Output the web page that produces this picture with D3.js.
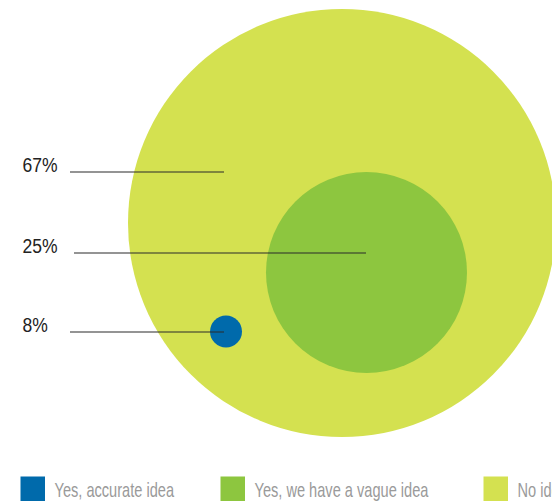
<!DOCTYPE html>
<html>
<head>
<meta charset="utf-8">
<script src="https://cdn.jsdelivr.net/npm/d3@7"></script>
<style>
  html, body { margin: 0; padding: 0; background: #fff; }
  svg { display: block; }
  text { font-family: "Liberation Sans", Arial, sans-serif; }
</style>
</head>
<body>
<script>
// Survey answers
const categories = ["Yes, accurate idea", "Yes, we have a vague idea", "No idea"];
const values = [8, 25, 67];
const valueLabels = ["8%", "25%", "67%"];
const colors = ["#006aab", "#8dc63f", "#d4e150"];

// Layout (pixel geometry kept apart from the data)
const W = 552, H = 501;
const circleCenters = [[226, 331.5], [366.5, 272.5], [342, 223]];
const leaderEnds = [[224, 332], [366, 253], [224, 172]];
const leaderStarts = [70, 74, 70];
const labelX = 22.5;
const legendX = [20.5, 220.5, 483.5];
const legendY = 476.5;

const svg = d3.select("body").append("svg")
  .attr("width", W).attr("height", H);

// Radius scale for the bubbles
const r = d3.scaleLinear().domain([8, 25, 67]).range([16, 100.5, 214]);

const data = categories.map((c, i) => ({
  category: c, value: values[i], label: valueLabels[i], color: colors[i],
  cx: circleCenters[i][0], cy: circleCenters[i][1],
  lx: leaderEnds[i][0], ly: leaderEnds[i][1], sx: leaderStarts[i]
}));

// Largest bubble first so smaller ones sit on top
const drawOrder = data.slice().sort((a, b) => b.value - a.value);

svg.append("g").selectAll("circle")
  .data(drawOrder)
  .join("circle")
  .attr("cx", d => d.cx)
  .attr("cy", d => d.cy)
  .attr("r", d => r(d.value))
  .attr("fill", d => d.color);

// Leader lines and percentage labels
const ann = svg.append("g");
ann.selectAll("line")
  .data(data)
  .join("line")
  .attr("x1", d => d.sx).attr("x2", d => d.lx)
  .attr("y1", d => d.ly).attr("y2", d => d.ly)
  .attr("stroke", "#2b2b2b")
  .attr("stroke-width", 1.1);

// Condensed look: horizontally compressed type
ann.selectAll("text")
  .data(data)
  .join("text")
  .attr("transform", d => `translate(${labelX},${d.ly}) scale(0.875,1)`)
  .attr("font-size", 20)
  .attr("fill", "#222")
  .text(d => d.label);

// Legend
const leg = svg.append("g").selectAll("g")
  .data(data)
  .join("g")
  .attr("transform", (d, i) => `translate(${legendX[i]},${legendY})`);

leg.append("rect")
  .attr("width", 24.5).attr("height", 24.5)
  .attr("fill", d => d.color);

leg.append("text")
  .attr("transform", "translate(34,20) scale(0.73,1)")
  .attr("font-size", 20)
  .attr("fill", "#9a9a9a")
  .text(d => d.category);
</script>
</body>
</html>
